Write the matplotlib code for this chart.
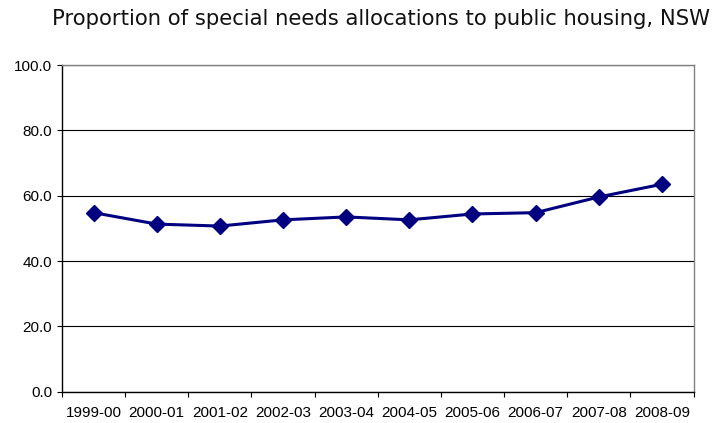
import matplotlib
matplotlib.use("Agg")
import matplotlib.pyplot as plt
import numpy as np

years = ["1999-00", "2000-01", "2001-02", "2002-03", "2003-04",
         "2004-05", "2005-06", "2006-07", "2007-08", "2008-09"]
proportion = [54.8, 51.3, 50.7, 52.6, 53.5, 52.6, 54.4, 54.8, 59.6, 63.5]
y_ticks = [0, 20, 40, 60, 80, 100]

fig = plt.figure(figsize=(7.26, 4.23), dpi=100)
ax = fig.add_axes([62 / 726, 31.3 / 423, 631.5 / 726, 326.7 / 423])

x = np.arange(len(years))
ax.plot(x, proportion, color="#000080", linewidth=2.2, marker="D",
        markersize=8, markerfacecolor="#000080", markeredgecolor="#000080",
        zorder=3)

ax.set_xlim(-0.5, len(years) - 0.5)
ax.set_ylim(0, 100)

ax.set_yticks(y_ticks)
ax.set_yticklabels([f"{v:.1f}" for v in y_ticks],
                   fontfamily="Liberation Sans", fontsize=11)
ax.set_xticks(x)
ax.set_xticklabels(years, fontfamily="Liberation Sans", fontsize=11)
ax.set_xticks(np.arange(len(years) + 1) - 0.5, minor=True)
ax.tick_params(axis="x", which="major", length=0, pad=10.5)
ax.tick_params(axis="x", which="minor", length=3.6, width=0.8, color="black",
               direction="out")
ax.tick_params(axis="y", length=3.6, width=0.8, direction="out", pad=3.6)

ax.grid(axis="y", color="black", linewidth=0.8)
ax.set_axisbelow(True)
for side in ("left", "bottom"):
    ax.spines[side].set_color("black")
    ax.spines[side].set_linewidth(1.0)
for side in ("top", "right"):
    ax.spines[side].set_color("#808080")
    ax.spines[side].set_linewidth(1.0)

fig.text(381 / 726, 1 - 25 / 423,
         "Proportion of special needs allocations to public housing, NSW",
         ha="center", va="baseline", fontsize=15.2, fontfamily="DejaVu Sans",
         color="#111111")

fig.savefig("out.png", dpi=100)
